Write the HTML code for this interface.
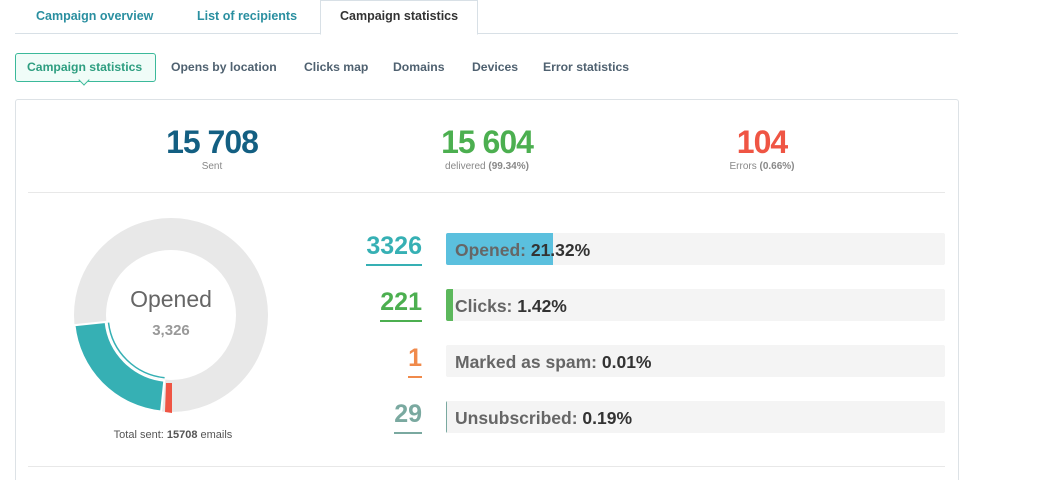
<!DOCTYPE html>
<html><head><style>
html,body{margin:0;width:1059px;height:480px;overflow:hidden}
body{background:#fff;font-family:"Liberation Sans",sans-serif;position:relative}
.a{position:absolute}
.tab{position:absolute;top:9px;font-size:12.5px;font-weight:bold;color:#2a8fa0}
.sub{position:absolute;top:60px;font-size:12.2px;font-weight:bold;color:#4f6170}
.big{position:absolute;top:124px;font-size:32px;font-weight:bold;letter-spacing:-1px;text-align:center;width:200px}
.cap{position:absolute;top:160px;font-size:10px;color:#888;text-align:center;width:200px}
.num{position:absolute;right:637px;font-size:25px;font-weight:bold;padding-bottom:3px;top:0}
.bar{position:absolute;left:446px;width:499px;height:32px;background:#f4f4f4;border-radius:2px;overflow:hidden}
.bar span.t{position:absolute;left:9px;top:7px;font-size:17.5px;font-weight:bold;color:#666;white-space:nowrap}
.bar b{color:#333}
</style></head><body>
<div class="a" style="left:15px;top:33px;width:943px;border-top:1px solid #d8e0e6"></div>
<div class="a" style="left:320px;top:0;width:156px;height:33px;border:1px solid #d8e0e6;border-bottom:1px solid #fff;background:#fff"></div>
<div class="tab" style="left:36px">Campaign overview</div>
<div class="tab" style="left:197px">List of recipients</div>
<div class="tab" style="left:340px;color:#333">Campaign statistics</div>
<div class="a" style="left:15px;top:53px;width:139px;height:27px;border:1px solid #3bb99a;border-radius:3px;background:#f0fcf8"></div>
<div class="a" style="left:80px;top:76px;width:7px;height:7px;border-right:1px solid #3bb99a;border-bottom:1px solid #3bb99a;background:#f0fcf8;transform:rotate(45deg)"></div>
<div class="sub" style="left:27px;color:#2e9e80">Campaign statistics</div>
<div class="sub" style="left:171px">Opens by location</div>
<div class="sub" style="left:304px">Clicks map</div>
<div class="sub" style="left:393px">Domains</div>
<div class="sub" style="left:472px">Devices</div>
<div class="sub" style="left:543px">Error statistics</div>
<div class="a" style="left:15px;top:99px;width:942px;height:400px;border:1px solid #dde2e6;border-radius:3px"></div>
<div class="big" style="left:112px;color:#135f82">15 708</div>
<div class="cap" style="left:112px;top:161px">Sent</div>
<div class="big" style="left:387px;color:#4caf50">15 604</div>
<div class="cap" style="left:387px;top:161px">delivered <b>(99.34%)</b></div>
<div class="big" style="left:662px;color:#ef5544">104</div>
<div class="cap" style="left:662px;top:161px">Errors <b>(0.66%)</b></div>
<div class="a" style="left:28px;top:192px;width:917px;border-top:1px solid #e8e8e8"></div>
<div class="a" style="left:28px;top:466px;width:917px;border-top:1px solid #e8e8e8"></div>
<svg class="a" style="left:0;top:0" width="400" height="480">
<circle cx="171" cy="315" r="81" fill="none" stroke="#e8e8e8" stroke-width="32"/>
<path d="M161.1 411.5 A97 97 0 0 1 74.5 325.2 L105.6 322 A66 66 0 0 0 164.3 380.7 Z" fill="#36b0b4" stroke="#fff" stroke-width="2"/>
<path d="M108.5 322.6 A63 63 0 0 0 164.6 377.7" fill="none" stroke="#36b0b4" stroke-width="1.5"/>
<path d="M172 413 L165 412 L166 383 L172 383 Z" fill="#ef5544"/>
<text x="171" y="307" text-anchor="middle" font-family="Liberation Sans" font-size="23" fill="#666">Opened</text>
<text x="171" y="335" text-anchor="middle" font-family="Liberation Sans" font-size="15" font-weight="bold" fill="#999">3,326</text>
<text x="173" y="438" text-anchor="middle" font-family="Liberation Sans" font-size="11" fill="#555">Total sent: <tspan font-weight="bold">15708</tspan> emails</text>
</svg>
<div class="num" style="top:232px;color:#36b0b4;border-bottom:2px solid #36b0b4">3326</div>
<div class="num" style="top:288px;color:#4caf50;border-bottom:2px solid #4caf50">221</div>
<div class="num" style="top:344px;color:#f08a4b;border-bottom:2px solid #f08a4b">1</div>
<div class="num" style="top:400px;color:#7aa9a0;border-bottom:2px solid #7aa9a0">29</div>
<div class="bar" style="top:233px"><div class="a" style="left:0;top:0;width:107px;height:32px;background:#5bc0de"></div><span class="t">Opened: <b>21.32%</b></span></div>
<div class="bar" style="top:289px"><div class="a" style="left:0;top:0;width:7px;height:32px;background:#5cb85c"></div><span class="t">Clicks: <b>1.42%</b></span></div>
<div class="bar" style="top:345px"><span class="t">Marked as spam: <b>0.01%</b></span></div>
<div class="bar" style="top:401px"><div class="a" style="left:0;top:0;width:1px;height:32px;background:#7aa9a0"></div><span class="t">Unsubscribed: <b>0.19%</b></span></div>
</body></html>
